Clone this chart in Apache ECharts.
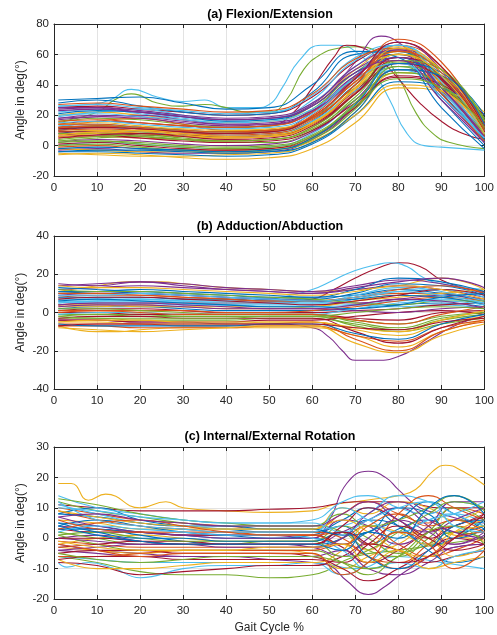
<!DOCTYPE html>
<html>
<head>
<meta charset="utf-8">
<script src="https://cdn.jsdelivr.net/npm/echarts@6/dist/echarts.min.js"></script>
<style>
  html, body { margin: 0; padding: 0; background: #fff; }
  #chart { width: 497px; height: 635px; }
</style>
</head>
<body>
<div id="chart"></div>
<script>
// MATLAB default line colour order
const COLORS = ['#0072BD', '#D95319', '#EDB120', '#7E2F8E', '#77AC30', '#4DBEEE', '#A2142F']

const TITLES = ['(a) Flexion/Extension', '(b) Adduction/Abduction', '(c) Internal/External Rotation']
const Y_RANGES = [[-20, 80, 20], [-40, 40, 20], [-20, 30, 10]]

// common gait-cycle sample points for panels (a) and (b)
const X_GRID = [1, 10, 20, 30, 40, 50, 60, 70, 80, 90, 100]
// panel (c) uses a finer grid in the swing phase
const X_GRID_C = [1, 10, 20, 30, 40, 50, 60, 67, 73, 80, 87, 93, 100]

// (a) flexion / extension curves, values at X_GRID
const flexCurves = [
  [10, 12, 11, 9, 8, 9, 18, 42, 60, 42, 8],
  [5, 6, 5, 4, 3, 4, 12, 35, 58, 45, 10],
  [20, 22, 20, 17, 15, 16, 26, 50, 65, 40, 6],
  [-3, -2, -4, -5, -5, -4, 4, 25, 50, 40, 12],
  [15, 18, 17, 14, 12, 13, 24, 48, 62, 38, 4],
  [0, 2, 1, -1, -2, -1, 8, 30, 52, 42, 14],
  [25, 26, 24, 22, 20, 21, 32, 55, 66, 35, 2],
  [8, 10, 9, 7, 6, 7, 16, 40, 58, 44, 10],
  [12, 16, 18, 14, 10, 10, 20, 45, 63, 41, 6],
  [-5, -6, -7, -7, -6, -5, 2, 22, 48, 42, 16],
  [18, 20, 19, 16, 14, 14, 22, 46, 64, 44, 8],
  [3, 5, 6, 4, 2, 2, 10, 32, 55, 46, 12],
  [22, 24, 21, 18, 16, 17, 30, 56, 64, 36, 5],
  [7, 8, 7, 6, 5, 6, 14, 36, 56, 43, 9],
  [28, 30, 26, 22, 20, 21, 35, 60, 62, 30, 0],
  [-1, 0, -2, -3, -3, -2, 5, 26, 50, 44, 15],
  [14, 15, 13, 11, 10, 11, 19, 42, 60, 42, 7],
  [2, 4, 3, 1, 0, 1, 9, 30, 54, 45, 13],
  [11, 13, 12, 10, 9, 10, 18, 38, 52, 36, 8],
  [19, 22, 24, 20, 17, 18, 28, 52, 66, 42, 5],
  [6, 7, 5, 3, 2, 3, 10, 28, 45, 38, 12],
  [-4, -4, -5, -6, -7, -6, 1, 20, 42, 38, 18],
  [16, 17, 15, 13, 12, 13, 22, 44, 56, 36, 6],
  [9, 10, 8, 6, 5, 6, 15, 38, 62, 50, 16],
  [24, 25, 23, 20, 18, 19, 28, 50, 60, 32, 3],
  [4, 6, 7, 5, 3, 4, 12, 34, 60, 50, 18],
  [13, 14, 12, 9, 7, 8, 16, 36, 50, 35, 10],
  [1, 2, 0, -2, -3, -2, 6, 25, 46, 40, 20],
  [21, 23, 22, 19, 16, 17, 26, 48, 58, 34, 4],
  [10, 11, 10, 8, 7, 8, 17, 40, 66, 52, 14],
  [-6, -5, -6, -8, -9, -8, -2, 15, 38, 36, 22],
  [17, 19, 20, 17, 14, 15, 23, 44, 68, 50, 10],
  [8, 8, 6, 4, 3, 4, 11, 30, 48, 40, 11],
  [26, 27, 25, 23, 21, 22, 33, 58, 66, 38, 2],
  [5, 7, 8, 6, 4, 5, 13, 34, 58, 46, 9],
  [30, 31, 32, 28, 24, 25, 40, 62, 58, 25, -2],
  [12, 13, 11, 9, 8, 9, 18, 40, 70, 55, 12],
  [-2, -3, -4, -4, -5, -3, 3, 20, 40, 36, 8],
  [23, 24, 22, 19, 17, 18, 27, 52, 63, 38, 5],
  [0, 1, -1, -3, -4, -3, 4, 24, 52, 46, 17],
  [15, 16, 14, 12, 11, 12, 21, 46, 66, 46, 8],
  [9, 9, 8, 7, 6, 7, 14, 34, 54, 44, 12],
  [-4, -3, -3, -4, -5, -4, 2, 22, 50, 46, 20],
  [27, 28, 26, 24, 22, 23, 34, 57, 64, 34, 3],
  [6, 8, 9, 7, 5, 6, 14, 38, 64, 50, 12],
  [18, 19, 18, 15, 13, 14, 23, 46, 58, 38, 6],
  [3, 3, 2, 0, -1, 0, 7, 28, 56, 50, 16],
  [20, 21, 19, 17, 15, 16, 24, 44, 54, 32, 5],
  [11, 12, 11, 9, 8, 9, 19, 44, 68, 52, 12],
  [-2, -1, -2, -3, -4, -3, 5, 27, 54, 48, 14],
  [14, 14, 12, 10, 9, 10, 19, 42, 62, 48, 10],
  [7, 9, 10, 8, 6, 7, 15, 37, 60, 46, 8],
  [25, 25, 22, 19, 17, 18, 26, 48, 56, 30, 2],
  [2, 3, 1, -1, -2, -1, 6, 26, 44, 38, 12],
]
// (a) outliers with their own sample points
const flexBlueX = [1, 8, 13, 18, 24, 30, 35, 40, 47, 50, 53, 57, 62, 66, 70, 74, 78, 82, 86, 90, 100]
const flexBlueY = [26, 27, 30, 37, 32, 29, 30, 25, 25, 27, 38, 56, 66, 66, 62, 50, 30, 8, 0, -1, -3]
const flexGreenX = [1, 10, 14, 18, 24, 30, 35, 40, 45, 50, 54, 58, 62, 66, 70, 75, 80, 84, 88, 92, 100]
const flexGreenY = [16, 22, 30, 34, 28, 26, 27, 25, 22, 22, 30, 50, 60, 64, 65, 62, 45, 22, 8, 2, -2]
const flexRedX = [1, 10, 20, 30, 40, 50, 55, 60, 65, 68, 72, 76, 80, 85, 90, 95, 100]
const flexRedY = [14, 16, 15, 13, 12, 13, 20, 38, 58, 66, 64, 56, 44, 28, 16, 8, 4]
const flexPurpleX = [1, 10, 20, 30, 40, 50, 60, 70, 76, 80, 85, 90, 100]
const flexPurpleY = [12, 13, 12, 10, 9, 10, 22, 55, 72, 68, 55, 38, 10]

// (b) adduction / abduction curves, values at X_GRID
const abdCurves = [
  [2, 3, 3, 2, 1, 1, 1, 2, 4, 5, 3],
  [8, 9, 9, 8, 7, 6, 6, 8, 10, 10, 6],
  [-5, -5, -6, -6, -6, -5, -5, -9, -12, -6, -2],
  [12, 13, 14, 13, 12, 11, 10, 12, 14, 12, 8],
  [-2, -1, -1, -2, -2, -2, -2, -4, -6, -2, 0],
  [5, 6, 6, 5, 4, 4, 4, 7, 11, 12, 8],
  [0, 0, -1, -1, -1, -1, -1, -3, -4, 0, 1],
  [10, 11, 12, 11, 10, 9, 8, 9, 12, 10, 6],
  [-7, -7, -8, -8, -8, -7, -7, -12, -15, -8, -4],
  [4, 4, 3, 3, 2, 2, 3, 6, 9, 8, 4],
  [14, 15, 16, 15, 13, 12, 11, 14, 17, 15, 10],
  [-3, -3, -4, -4, -4, -3, -3, -6, -9, -4, -1],
  [7, 7, 7, 6, 6, 5, 5, 4, 3, 4, 2],
  [1, 2, 2, 1, 0, 0, 0, 1, 2, 4, 5],
  [11, 11, 10, 9, 8, 7, 7, 10, 15, 14, 9],
  [-6, -6, -6, -7, -7, -6, -5, -14, -20, -10, -5],
  [3, 3, 4, 3, 3, 3, 3, 6, 8, 10, 12],
  [9, 10, 10, 9, 8, 7, 6, 5, 7, 9, 7],
  [-1, -1, -2, -2, -2, -2, -2, -7, -10, -6, -3],
  [6, 5, 5, 4, 4, 3, 3, 4, 6, 7, 5],
  [-4, -4, -5, -5, -5, -4, -4, -2, 0, 1, -1],
  [13, 12, 11, 10, 9, 8, 8, 12, 18, 16, 11],
  [0, 1, 1, 1, 0, 0, 1, 3, 6, 8, 6],
  [-8, -9, -10, -9, -8, -7, -7, -16, -21, -12, -6],
  [15, 14, 16, 14, 12, 11, 10, 13, 16, 18, 13],
  [2, 2, 1, 0, -1, -1, -1, -5, -8, -3, 0],
  [5, 6, 7, 6, 5, 5, 5, 9, 13, 11, 6],
  [-3, -2, -2, -3, -3, -3, -3, -10, -16, -8, -2],
  [8, 8, 8, 7, 7, 6, 6, 7, 9, 8, 4],
  [10, 10, 9, 8, 7, 6, 6, 8, 12, 14, 10],
  [-5, -4, -4, -5, -5, -5, -5, -8, -10, -4, 1],
  [4, 5, 5, 4, 3, 2, 2, 1, 0, 2, 3],
  [12, 11, 11, 10, 9, 8, 7, 5, 4, 6, 6],
  [-1, 0, 0, -1, -1, -1, -1, 2, 5, 6, 4],
  [7, 8, 8, 7, 6, 5, 4, 6, 9, 12, 9],
  [-6, -7, -7, -7, -7, -6, -6, -11, -14, -6, -1],
  [1, 1, 0, -1, -1, -1, -1, -4, -6, -1, 3],
  [14, 13, 13, 12, 11, 10, 9, 11, 14, 12, 7],
  [3, 4, 4, 3, 2, 2, 2, 4, 7, 6, 2],
  [-2, -3, -3, -3, -3, -2, -2, 0, 2, 3, 2],
  [9, 9, 10, 9, 8, 7, 6, 8, 11, 9, 5],
  [-7, -6, -6, -6, -6, -6, -6, -8, -9, -5, -3],
  [6, 7, 6, 5, 4, 3, 3, 2, 4, 8, 10],
]
// (b) outliers
const abdRedX = [1, 10, 20, 30, 40, 50, 60, 65, 70, 75, 80, 85, 90, 95, 100]
const abdRedY = [4, 5, 5, 5, 5, 5, 7, 12, 18, 23, 26, 24, 17, 13, 11]
const abdBlueX = [1, 10, 20, 30, 40, 50, 55, 60, 65, 70, 75, 78, 82, 86, 90, 100]
const abdBlueY = [6, 6, 6, 6, 6, 7, 9, 12, 17, 22, 25, 26, 24, 18, 15, 12]
const abdPurpleX = [1, 10, 20, 30, 40, 50, 60, 64, 67, 70, 75, 80, 86, 93, 100]
const abdPurpleY = [-4, -4, -5, -5, -6, -6, -8, -13, -20, -25, -25, -23, -16, -7, -2]
const abdOrangeLowX = [1, 5, 10, 15, 20, 30, 40, 50, 60, 70, 80, 90, 100]
const abdOrangeLowY = [-7, -9, -10, -10, -9, -8, -8, -8, -8, -12, -18, -10, -4]
const abdOrangeHighX = [1, 10, 17, 25, 30, 40, 50, 60, 70, 80, 90, 100]
const abdOrangeHighY = [11, 14, 16, 16, 15, 13, 12, 11, 12, 14, 18, 12]

// (c) internal / external rotation curves, values at X_GRID_C
const rotCurves = [
  [5, 4, 2, 1, 0, 0, 1, 4, -2, 3, 6, 2, 4],
  [10, 8, 6, 5, 4, 3, 3, 8, 12, 8, 5, 10, 8],
  [-3, -4, -5, -4, -4, -4, -5, -10, -6, -2, 3, 1, -1],
  [0, 1, -1, -2, -2, -2, -2, 2, 6, 10, 4, -2, 2],
  [12, 9, 7, 5, 4, 4, 4, 2, -4, -6, 0, 6, 4],
  [-6, -7, -8, -8, -8, -8, -8, -12, -8, 0, 6, 8, 5],
  [3, 2, 2, 1, 1, 1, 1, -3, -8, -4, 2, 4, 8],
  [8, 10, 6, 4, 3, 2, 2, 6, 10, 4, -2, 0, 6],
  [-1, -2, -3, -3, -3, -3, -3, 0, 4, -2, -6, -4, 0],
  [6, 5, 3, 3, 3, 3, 3, 10, 8, 12, 10, 6, 10],
  [-4, -5, -6, -6, -6, -6, -6, -4, -10, -12, -8, -3, -2],
  [2, 0, -2, -2, -2, -1, -1, 4, 0, -5, 2, 10, 6],
  [14, 10, 8, 6, 5, 5, 6, 12, 14, 10, 8, 12, 10],
  [-8, -9, -12, -11, -10, -9, -9, -6, -2, -4, -8, -6, -4],
  [4, 6, 4, 2, 1, 0, 0, -2, 2, 6, 12, 8, 3],
  [9, 6, 4, 3, 2, 2, 2, 0, -6, -8, -2, 4, 2],
  [-2, 0, 1, 0, -1, -1, -1, 2, -4, 2, 0, -6, -3],
  [7, 4, 2, 1, 0, 0, 0, 6, 4, -2, 4, 12, 12],
  [1, -2, -4, -4, -4, -4, -4, -8, -12, -6, -2, 2, 0],
  [11, 8, 5, 4, 3, 3, 3, 4, 8, 14, 12, 8, 4],
  [-5, -4, -4, -5, -5, -5, -6, -10, -14, -10, -4, 0, -2],
  [3, 3, 1, -1, -2, -2, -2, 0, 6, 4, -4, -8, -6],
  [6, 3, 2, 2, 2, 1, 1, 2, -2, 8, 14, 10, 6],
  [-7, -10, -10, -9, -8, -8, -8, -4, 4, 2, -2, 2, 4],
  [0, -1, -2, -2, -2, -2, -3, -6, 0, 6, 2, -2, 1],
  [13, 11, 8, 6, 5, 4, 4, 8, 4, 6, 10, 14, 9],
  [2, 4, 3, 2, 1, 1, 0, -4, -10, -8, -10, -6, -4],
  [-3, -2, -1, -1, -2, -2, -2, 4, 10, 6, 0, 4, 7],
  [8, 7, 5, 4, 4, 3, 3, 1, 2, 10, 8, 0, 3],
  [-6, -6, -5, -4, -4, -4, -4, -2, -6, -10, -6, 0, 2],
  [9, 7, 5, 4, 3, 3, 3, 6, 2, -4, -6, 2, 6],
  [-4, -3, -2, -2, -3, -3, -3, 0, 8, 12, 6, 2, 0],
  [1, 2, 0, -1, -1, -1, -1, -6, -4, 2, 8, 12, 10],
  [12, 6, 4, 3, 2, 2, 2, 10, 6, 2, 6, 8, 12],
  [-7, -6, -6, -7, -7, -7, -7, -8, -2, 4, 0, -4, -2],
  [5, 2, 0, 0, -1, -1, -1, 2, -6, -10, -4, 4, 6],
  [3, 5, 6, 4, 2, 1, 1, -2, 4, 8, 4, 6, 2],
  [-1, -3, -4, -4, -4, -3, -3, -2, -8, -4, -10, -8, -6],
  [7, 8, 6, 5, 4, 4, 4, 8, 12, 6, 2, 6, 10],
  [-5, -7, -8, -7, -6, -6, -6, -8, -10, -6, 2, 4, -2],
  [10, 9, 7, 6, 5, 5, 5, 2, 6, 10, 12, 4, 2],
  [0, 0, -1, -2, -2, -2, -2, 2, -2, -8, -6, 0, 8],
  [4, 1, -1, -2, -2, -2, -2, -4, 2, 0, 10, 14, 8],
  [-2, -4, -6, -5, -5, -5, -5, -12, -8, 2, -2, -10, -4],
]
// (c) outliers
const rotOrangeX = [1, 4, 8, 12, 20, 26, 30, 40, 50, 60, 65, 70, 75, 80, 84, 88, 91, 95, 100]
const rotOrangeY = [18, 18, 12.5, 14.5, 10, 12, 10, 9, 8.5, 9, 11, 12, 13, 14, 16, 22, 24, 22, 17.5]
const rotPurpleHighX = [1, 10, 20, 30, 40, 50, 60, 64, 68, 73, 77, 80, 85, 90, 95, 100]
const rotPurpleHighY = [4, 3, 2, 1, 1, 1, 0, 6, 18, 22, 20, 16, 10, 8, 6, 5]
const rotPurpleLowX = [1, 10, 20, 30, 40, 50, 60, 64, 68, 73, 77, 80, 85, 90, 100]
const rotPurpleLowY = [-2, -4, -5, -6, -6, -7, -8, -9, -14, -18.5, -15.8, -12.5, -8, -4, -2]
const rotRedX = [1, 10, 20, 30, 40, 50, 60, 70, 80, 90, 100]
const rotRedY = [11, 10, 9, 9, 9, 9.5, 10, 12, 12, 10, 10]
const rotGreenX = [1, 10, 20, 30, 40, 50, 60, 70, 80, 90, 100]
const rotGreenY = [-6, -8, -11, -12, -12, -13, -12, -6, -4, -2, 0]
const rotBlueX = [1, 3, 8, 14, 20, 30, 40, 50, 60, 70, 80, 90, 100]
const rotBlueY = [-8, -9.5, -8, -10, -13, -10, -9, -9, -8, -10, -6, -8, -10]

const GRIDS = [
  { left: 54, right: 12, top: 24, height: 152 },
  { left: 54, right: 12, top: 236, height: 153 },
  { left: 54, right: 12, top: 447, height: 153 },
]
const TITLE_Y = [15, 227, 437]

const FONT = '"Liberation Sans", Arial, Helvetica, sans-serif'
const AXIS_COLOR = '#262626'

function lineSeries(panel, xs, ys, color) {
  return {
    type: 'line',
    xAxisIndex: panel,
    yAxisIndex: panel,
    data: xs.map((x, i) => [x, ys[i]]),
    smooth: 0.5,
    showSymbol: false,
    silent: true,
    lineStyle: { width: 1.1, color },
  }
}

const series = []
// outliers first, colours
series.push(lineSeries(0, flexBlueX, flexBlueY, COLORS[5]))
series.push(lineSeries(0, flexGreenX, flexGreenY, COLORS[4]))
series.push(lineSeries(0, flexRedX, flexRedY, COLORS[6]))
series.push(lineSeries(0, flexPurpleX, flexPurpleY, COLORS[3]))
flexCurves.forEach((c, i) => series.push(lineSeries(0, X_GRID, c, COLORS[i % 7])))

series.push(lineSeries(1, abdRedX, abdRedY, COLORS[6]))
series.push(lineSeries(1, abdBlueX, abdBlueY, COLORS[5]))
series.push(lineSeries(1, abdPurpleX, abdPurpleY, COLORS[3]))
series.push(lineSeries(1, abdOrangeLowX, abdOrangeLowY, COLORS[2]))
series.push(lineSeries(1, abdOrangeHighX, abdOrangeHighY, COLORS[2]))
abdCurves.forEach((c, i) => series.push(lineSeries(1, X_GRID, c, COLORS[i % 7])))

series.push(lineSeries(2, rotOrangeX, rotOrangeY, COLORS[2]))
series.push(lineSeries(2, rotPurpleHighX, rotPurpleHighY, COLORS[3]))
series.push(lineSeries(2, rotPurpleLowX, rotPurpleLowY, COLORS[3]))
series.push(lineSeries(2, rotRedX, rotRedY, COLORS[6]))
series.push(lineSeries(2, rotGreenX, rotGreenY, COLORS[4]))
series.push(lineSeries(2, rotBlueX, rotBlueY, COLORS[5]))
rotCurves.forEach((c, i) => series.push(lineSeries(2, X_GRID_C, c, COLORS[i % 7])))

const labelStyle = { color: AXIS_COLOR, fontSize: 11.5, fontFamily: FONT }
const nameStyle = { color: AXIS_COLOR, fontSize: 12, fontFamily: FONT }
const xAxes = []
const yAxes = []
GRIDS.forEach((g, i) => {
  const [ymin, ymax, yint] = Y_RANGES[i]
  xAxes.push({
    gridIndex: i, type: 'value', min: 0, max: 100, interval: 10,
    axisLine: { onZero: false, lineStyle: { color: AXIS_COLOR, width: 1 } },
    axisTick: { inside: true, length: 4, lineStyle: { color: AXIS_COLOR } },
    axisLabel: { ...labelStyle, margin: 6 },
    splitLine: { show: true, lineStyle: { color: '#e3e3e3', width: 1 } },
    name: i === 2 ? 'Gait Cycle %' : '',
    nameLocation: 'middle', nameGap: 23, nameMoveOverlap: false,
    nameTextStyle: nameStyle,
  })
  yAxes.push({
    gridIndex: i, type: 'value', min: ymin, max: ymax, interval: yint,
    axisLine: { onZero: false, lineStyle: { color: AXIS_COLOR, width: 1 } },
    axisTick: { inside: true, length: 4, lineStyle: { color: AXIS_COLOR } },
    axisLabel: { ...labelStyle, margin: 5 },
    splitLine: { show: true, lineStyle: { color: '#e3e3e3', width: 1 } },
    name: 'Angle in deg(°)',
    nameLocation: 'middle', nameGap: 27, nameMoveOverlap: false,
    nameTextStyle: nameStyle,
  })
})
// box: top and right axes with inward ticks, no labels
GRIDS.forEach((g, i) => {
  const [ymin, ymax, yint] = Y_RANGES[i]
  xAxes.push({
    gridIndex: i, type: 'value', position: 'top', min: 0, max: 100, interval: 10,
    axisLine: { onZero: false, lineStyle: { color: AXIS_COLOR, width: 1 } },
    axisTick: { inside: true, length: 4, lineStyle: { color: AXIS_COLOR } },
    axisLabel: { show: false }, splitLine: { show: false },
  })
  yAxes.push({
    gridIndex: i, type: 'value', position: 'right', min: ymin, max: ymax, interval: yint,
    axisLine: { onZero: false, lineStyle: { color: AXIS_COLOR, width: 1 } },
    axisTick: { inside: true, length: 4, lineStyle: { color: AXIS_COLOR } },
    axisLabel: { show: false }, splitLine: { show: false },
  })
})

const graphics = TITLES.map((t, i) => ({
  type: 'text', x: 270, y: TITLE_Y[i], silent: true,
  style: { text: t, textAlign: 'center', textVerticalAlign: 'middle', fill: '#000', font: 'bold 12.5px ' + FONT },
}))

const chart = echarts.init(document.getElementById('chart'), null, { renderer: 'canvas' })
chart.setOption({
  animation: false,
  backgroundColor: '#fff',
  grid: GRIDS,
  xAxis: xAxes,
  yAxis: yAxes,
  graphic: graphics,
  series,
})
</script>
</body>
</html>
